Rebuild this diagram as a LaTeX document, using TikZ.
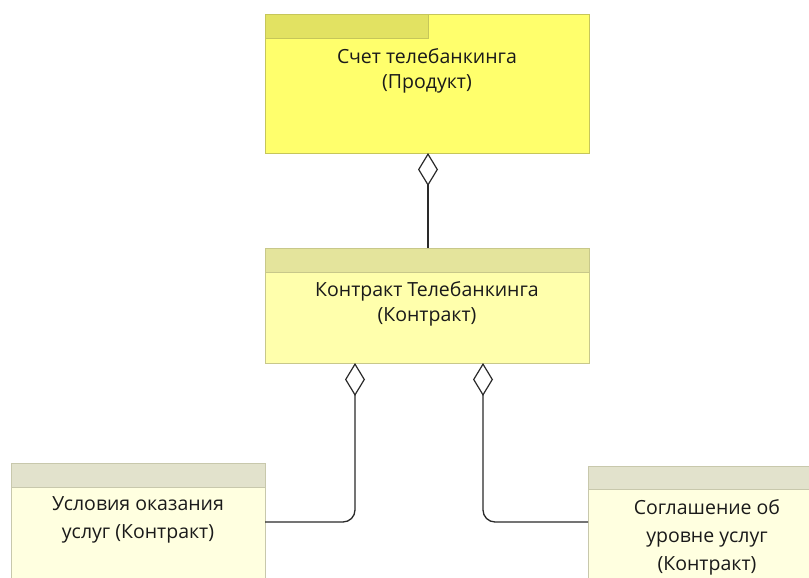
\documentclass[tikz,border=0pt]{standalone}
\usepackage{fontspec}
\setmainfont{Open Sans}
\usetikzlibrary{arrows.meta,calc}

\definecolor{prodFill}{HTML}{FFFF6C}
\definecolor{prodTab}{HTML}{E2E262}
\definecolor{prodLine}{HTML}{C6C65A}
\definecolor{ctrFill}{HTML}{FFFFAC}
\definecolor{ctrHead}{HTML}{E4E49C}
\definecolor{ctrLine}{HTML}{C8C88A}
\definecolor{subFill}{HTML}{FFFFE0}
\definecolor{subHead}{HTML}{E2E2CC}
\definecolor{subLine}{HTML}{C8C8AC}
\definecolor{txt}{HTML}{1A1A1A}
\definecolor{wire}{HTML}{2A2A2A}

\tikzset{
  box/.style={draw, line width=1pt, inner sep=0pt, outer sep=0pt, anchor=north west},
  label/.style={anchor=north, align=center, text=txt, font=\fontsize{19.5}{25}\selectfont, inner sep=0pt},
  agg/.style={draw=wire, line width=1.3pt, rounded corners=12pt,
    {Diamond[open, width=20pt, length=33pt, line width=1.2pt]}-}
}

\begin{document}
\begin{tikzpicture}[x=1pt, y=-1pt]
\useasboundingbox (0,0) rectangle (809,578);
\clip (0,0) rectangle (809,578);

% product box with its tab
\node[box, fill=prodFill, draw=prodLine, minimum width=324pt, minimum height=138pt] (prod) at (265,15) {};
\fill[prodTab] (prod.north west) rectangle ++(163,24);
\draw[prodLine, line width=1pt] (prod.north west) ++(0,24) -- ++(163,0) -- ++(0,-24);
\node[box, draw=prodLine, minimum width=324pt, minimum height=138pt] at (265,15) {};
\node[label] (prodText) at (427,48) {Счет телебанкинга\\(Продукт)};

% contract box
\node[box, fill=ctrFill, draw=ctrLine, minimum width=324pt, minimum height=115pt] (ctr) at (265,248) {};
\fill[ctrHead] (ctr.north west) rectangle ([yshift=-24pt]ctr.north east);
\draw[ctrLine, line width=1pt] ([yshift=-24pt]ctr.north west) -- ([yshift=-24pt]ctr.north east);
\node[box, draw=ctrLine, minimum width=324pt, minimum height=115pt] at (265,248) {};
\node[label] (ctrText) at (427,281) {Контракт Телебанкинга\\(Контракт)};

% terms of service
\node[box, fill=subFill, draw=subLine, minimum width=254pt, minimum height=118pt] (terms) at (11,463) {};
\fill[subHead] (terms.north west) rectangle ([yshift=-24pt]terms.north east);
\draw[subLine, line width=1pt] ([yshift=-24pt]terms.north west) -- ([yshift=-24pt]terms.north east);
\node[box, draw=subLine, minimum width=254pt, minimum height=118pt] at (11,463) {};
\node[label, font=\fontsize{19.5}{28}\selectfont] (termsText) at (138,496) {Условия оказания\\услуг (Контракт)};

% service level agreement
\node[box, fill=subFill, draw=subLine, minimum width=240pt, minimum height=130pt] (sla) at (588,466) {};
\fill[subHead] (sla.north west) rectangle ([yshift=-23pt]sla.north east);
\draw[subLine, line width=1pt] ([yshift=-23pt]sla.north west) -- ([yshift=-23pt]sla.north east);
\node[box, draw=subLine, minimum width=240pt, minimum height=130pt] at (588,466) {};
\node[label, font=\fontsize{19.5}{28}\selectfont] (slaText) at (707,499) {Соглашение об\\уровне услуг\\(Контракт)};

% aggregation links
\coordinate (slaIn) at (sla.north west |- terms.east);
\path[agg] ([xshift=1pt]prod.south) -- ([xshift=1pt]ctr.north);
\path[agg] ([xshift=90pt]ctr.south west) |- (terms.east);
\path[agg] ([xshift=218pt]ctr.south west) |- (slaIn);
\end{tikzpicture}
\end{document}
